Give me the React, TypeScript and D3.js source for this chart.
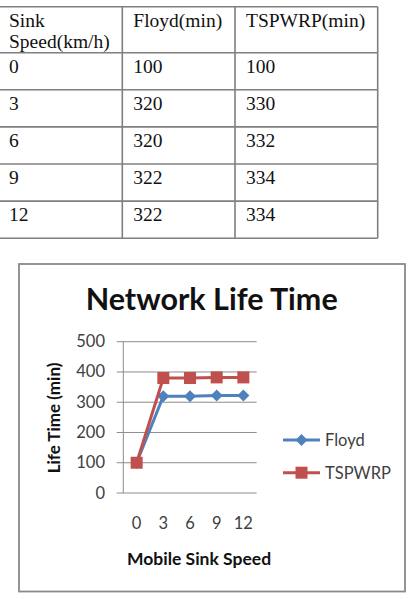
import React from 'react';
import * as d3 from 'd3';

// table values
const speeds = ['0', '3', '6', '9', '12'];
const tableHeaders = ['Sink\nSpeed(km/h)', 'Floyd(min)', 'TSPWRP(min)'];
const tableFloyd = [100, 320, 320, 322, 322];
const tableTspwrp = [100, 330, 332, 334, 334];

// chart values (as plotted)
const chartFloyd = [100, 320, 320, 322, 322];
const chartTspwrp = [100, 380, 380, 382, 382];
const yTicks = [0, 100, 200, 300, 400, 500];

const BLUE = '#4f81bd';
const RED = '#c0504d';
const FONT = 'Lato, "Open Sans", sans-serif';

const Table = () => {
  const colX = [-2, 122.3, 235, 377.7];
  const top = 6.7;
  const headerH = 46;
  const rowH = 37.1;
  const rowY = [top, top + headerH, ...speeds.map((_, i) => top + headerH + rowH * (i + 1))];
  const rows = speeds.map((s, i) => [s, String(tableFloyd[i]), String(tableTspwrp[i])]);
  const stroke = '#7f7f7f';
  return (
    <g fontFamily='"Liberation Serif", "Times New Roman", serif' fontSize={19.5} fill="#111">
      {rowY.map((y, i) => (
        <line key={'h' + i} x1={colX[0]} x2={colX[3]} y1={y} y2={y} stroke={stroke} strokeWidth={1.6} />
      ))}
      {colX.slice(1).map((x, i) => (
        <line key={'v' + i} x1={x} x2={x} y1={rowY[0]} y2={rowY[rowY.length - 1]} stroke={stroke} strokeWidth={1.6} />
      ))}
      {tableHeaders.map((h, c) =>
        h.split('\n').map((line, k) => (
          <text key={'t' + c + k} x={colX[c] + 11} y={top + 20 + k * 21.5}>{line}</text>
        ))
      )}
      {rows.map((r, i) =>
        r.map((v, c) => (
          <text key={'c' + i + c} x={colX[c] + 11} y={rowY[i + 1] + 20}>{v}</text>
        ))
      )}
    </g>
  );
};

const Chart = () => {
  const x = d3.scaleBand().domain(speeds).range([123.3, 256.7]);
  const y = d3.scaleLinear().domain([0, 500]).range([493, 341.7]);
  const cx = (s: string) => (x(s) as number) + x.bandwidth() / 2;
  const line = d3.line<number>().x((_, i) => cx(speeds[i])).y(d => y(d));
  const grid = '#8c8c8c';
  const diamond = (px: number, py: number, r = 6) => `M${px},${py - r}L${px + r},${py}L${px},${py + r}L${px - r},${py}Z`;
  return (
    <g fontFamily={FONT}>
      <rect x={19} y={264} width={386} height={327.5} fill="#fff" stroke="#8a8a8a" strokeWidth={1.8} />
      <text x={211.7} y={310} textAnchor="middle" fontSize={30.5} fontWeight="bold" fill="#111">Network Life Time</text>
      {yTicks.map(t => (
        <g key={t}>
          <line x1={116.7} x2={256.7} y1={y(t)} y2={y(t)} stroke={grid} strokeWidth={1} />
          <text x={105} y={y(t) + 5.5} textAnchor="end" fontSize={16.5} fill="#404040">{t}</text>
        </g>
      ))}
      <line x1={123.3} x2={123.3} y1={y(500)} y2={y(0)} stroke={grid} strokeWidth={1} />
      {speeds.map(s => (
        <text key={s} x={cx(s)} y={529} textAnchor="middle" fontSize={16.5} fill="#404040">{s}</text>
      ))}
      <text x={199} y={565} textAnchor="middle" fontSize={17.5} fontWeight="bold" fill="#111">Mobile Sink Speed</text>
      <text transform="translate(59.5,418) rotate(-90)" textAnchor="middle" fontSize={17} fontWeight="bold" fill="#111">Life Time (min)</text>

      <path d={line(chartFloyd) ?? ''} fill="none" stroke={BLUE} strokeWidth={3} />
      {chartFloyd.map((v, i) => (
        <path key={'f' + i} d={diamond(cx(speeds[i]), y(v))} fill={BLUE} />
      ))}
      <path d={line(chartTspwrp) ?? ''} fill="none" stroke={RED} strokeWidth={3} />
      {chartTspwrp.map((v, i) => (
        <rect key={'t' + i} x={cx(speeds[i]) - 6} y={y(v) - 6} width={12} height={12} fill={RED} />
      ))}

      <line x1={283} x2={320} y1={440} y2={440} stroke={BLUE} strokeWidth={3} />
      <path d={diamond(301.5, 440)} fill={BLUE} />
      <text x={325} y={446} fontSize={16.5} fill="#404040">Floyd</text>
      <line x1={283} x2={320} y1={472.7} y2={472.7} stroke={RED} strokeWidth={3} />
      <rect x={295.5} y={466.7} width={12} height={12} fill={RED} />
      <text x={325} y={478.5} fontSize={16.5} fill="#404040">TSPWRP</text>
    </g>
  );
};

export default function App() {
  return (
    <div style={{ position: 'absolute', left: 0, top: 0 }}>
      <svg width={413} height={599} style={{ display: 'block', background: '#fff' }}>
        <Table />
        <Chart />
      </svg>
    </div>
  );
}
